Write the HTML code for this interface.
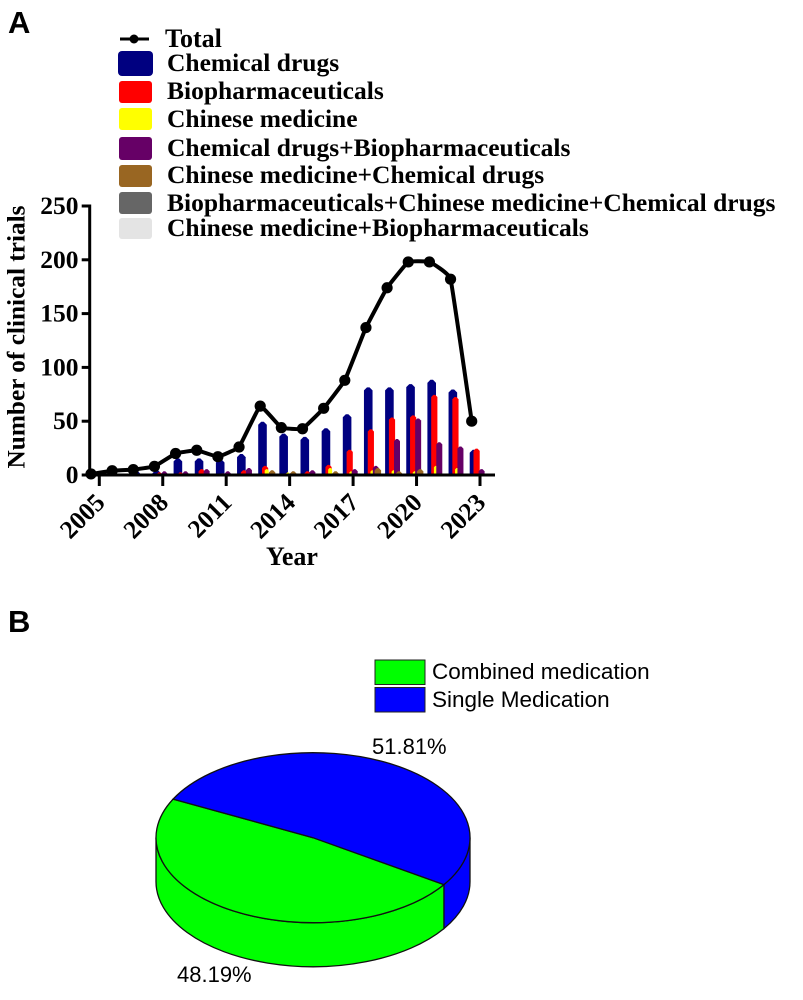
<!DOCTYPE html>
<html lang="en">
<head>
<meta charset="utf-8">
<title>Clinical trials chart</title>
<style>
html,body{margin:0;padding:0;background:#fff;}
#stage{display:block;width:803px;height:1000px;}
.serif{font-family:"Liberation Serif",serif;font-weight:bold;fill:#000;}
.sans{font-family:"Liberation Sans",sans-serif;fill:#000;}
</style>
</head>
<body>
<svg id="stage" xmlns="http://www.w3.org/2000/svg" width="803" height="1000" viewBox="0 0 803 1000">
  <text class="sans" x="8" y="33" font-size="31" font-weight="bold">A</text>
  <text class="sans" x="8" y="632" font-size="31" font-weight="bold">B</text>

  <g id="bars"></g>
  <g id="axes"></g>
  <g id="total"></g>

  <text class="serif" x="0" y="0" font-size="25.300" text-anchor="middle" transform="translate(24.500 337) rotate(-90)">Number of clinical trials</text>
  <text class="serif" x="292" y="565" font-size="26" text-anchor="middle">Year</text>

  <g>
    <g>
      <line x1="120" y1="39" x2="149" y2="39" stroke="#000" stroke-width="3"/>
      <circle cx="134" cy="39" r="4.500" fill="#000"/>
      <text class="serif" x="165" y="47" font-size="26">Total</text>
    </g>
    <g>
      <rect x="118" y="51" width="35" height="25" rx="4" fill="#000080"/>
      <text class="serif" x="167" y="71" font-size="25.500">Chemical drugs</text>
    </g>
    <g>
      <rect x="119" y="81" width="33" height="22" rx="3" fill="#ff0000"/>
      <text class="serif" x="167" y="99" font-size="25.500">Biopharmaceuticals</text>
    </g>
    <g>
      <rect x="119" y="108" width="33" height="22" rx="3" fill="#ffff00"/>
      <text class="serif" x="167" y="127" font-size="25.500">Chinese medicine</text>
    </g>
    <g>
      <rect x="119" y="137" width="33" height="23" rx="3" fill="#660066"/>
      <text class="serif" x="167" y="156" font-size="25.500">Chemical drugs+Biopharmaceuticals</text>
    </g>
    <g>
      <rect x="119" y="165" width="33" height="22" rx="3" fill="#996622"/>
      <text class="serif" x="167" y="183" font-size="25.500">Chinese medicine+Chemical drugs</text>
    </g>
    <g>
      <rect x="119" y="192" width="33" height="22" rx="3" fill="#666666"/>
      <text class="serif" x="167" y="211" font-size="25.500">Biopharmaceuticals+Chinese medicine+Chemical drugs</text>
    </g>
    <g>
      <rect x="119" y="218" width="33" height="21" rx="3" fill="#e4e4e4"/>
      <text class="serif" x="167" y="236" font-size="25.500">Chinese medicine+Biopharmaceuticals</text>
    </g>
  </g>

  <g id="pie"></g>

  <g>
    <g>
      <rect x="375" y="660" width="50" height="24.500" fill="#00ff00" stroke="#222" stroke-width="1"/>
      <text class="sans" x="432" y="679" font-size="22.500">Combined medication</text>
    </g>
    <g>
      <rect x="375" y="687.500" width="50" height="24.500" fill="#0000ff" stroke="#222" stroke-width="1"/>
      <text class="sans" x="432" y="707" font-size="22.500">Single Medication</text>
    </g>
  </g>
  <text class="sans" x="372" y="754" font-size="22">51.81%</text>
  <text class="sans" x="177" y="982" font-size="22">48.19%</text>
</svg>

<script>
var years = [2005,2006,2007,2008,2009,2010,2011,2012,2013,2014,2015,2016,2017,2018,2019,2020,2021,2022,2023];
var totalValues = [1,4,5,8,20,23,17,26,64,44,43,62,88,137,174,198,198,182,50];
var chemicalValues = [0,1,4,4,15,15,14,19,49,38,35,43,56,81,81,84,88,79,23];
var bioValues = [0,0,0,2,2,5,1,4,8,1,3,9,23,42,53,55,74,72,24];
var chineseValues = [0,0,0,0,0,0,0,0,5,2,1,6,3,4,4,3,8,6,0];
var chemBioValues = [0,0,0,3,3,5,3,6,1,1,4,1,5,8,33,52,30,26,5];
var chineseChemValues = [0,0,0,0,0,0,0,0,4,3,0,3,0,6,3,5,0,0,0];
var triValues = [0,0,0,0,0,0,0,0,0,0,0,0,0,0,0,0,0,0,0];
var chineseBioValues = [0,0,0,0,0,0,0,0,0,0,0,0,0,0,0,0,0,0,0];
var yTicks = [0,50,100,150,200,250];
var xTickYears = [2005,2008,2011,2014,2017,2020,2023];
var pieValues = [48.19,51.81];

var NS = 'http://www.w3.org/2000/svg';
function make(tag, attrs, parent) {
  var el = document.createElementNS(NS, tag);
  for (var k in attrs) { el.setAttribute(k, attrs[k]); }
  parent.appendChild(el);
  return el;
}
function xScale(year) { return 99.3 + (year - 2005) * 21.15; }
function yScale(v) { return 475 - v * 1.076; }

/* bars */
var barsG = document.getElementById('bars');
function drawBars(values, offset, width, color, name) {
  values.forEach(function (v, i) {
    if (v <= 0) { return; }
    var cx = xScale(years[i]) + offset;
    var top = yScale(v) - 0.5;
    var base = yScale(0);
    var hw = width / 2;
    var r = Math.min(hw * 0.7, base - top);
    var d = 'M' + (cx - hw) + ' ' + base + 'L' + (cx - hw) + ' ' + (top + r) +
      'L' + (cx - hw * 0.3) + ' ' + top + 'L' + (cx + hw * 0.3) + ' ' + top +
      'L' + (cx + hw) + ' ' + (top + r) +
      'L' + (cx + hw) + ' ' + base + 'Z';
    var p = make('path', { d: d, fill: color }, barsG);
    
    
  });
}
drawBars(chemicalValues, -6, 8.6, '#000080', 'chemical');
drawBars(bioValues, -3.4, 6.2, '#ff0000', 'biopharma');
drawBars(chineseValues, -1.8, 4, '#ffff00', 'chinese');
drawBars(chemBioValues, 1.6, 6, '#660066', 'chemical-biopharma');
drawBars(chineseChemValues, 3.6, 6.5, '#996622', 'chinese-chemical');
drawBars(triValues, 5, 4, '#666666', 'bio-chinese-chemical');
drawBars(chineseBioValues, 6, 4, '#e4e4e4', 'chinese-bio');

/* axes */
var axesG = document.getElementById('axes');
var yAxisLine = make('line', { x1: 89.7, y1: yScale(250) - 1.5, x2: 89.7, y2: yScale(0) + 1.5, stroke: '#000', 'stroke-width': 3 }, axesG);


var xAxisLine = make('line', { x1: 88, y1: yScale(0), x2: 495, y2: yScale(0), stroke: '#000', 'stroke-width': 3 }, axesG);



yTicks.forEach(function (t) {
  var y = yScale(t);
  var tick = make('line', { x1: 81.7, y1: y, x2: 90, y2: y, stroke: '#000', 'stroke-width': 3 }, axesG);
  
  
  var label = make('text', { x: 78.5, y: y + 8, 'text-anchor': 'end', 'font-size': 25.5, 'class': 'serif' }, axesG);
  label.textContent = t;
  
  
});
xTickYears.forEach(function (yr) {
  var x = xScale(yr);
  var tick = make('line', { x1: x, y1: yScale(0), x2: x, y2: 486, stroke: '#000', 'stroke-width': 3 }, axesG);
  
  
  var label = make('text', { x: 0, y: 0, 'text-anchor': 'end', 'font-size': 25.5, 'class': 'serif', transform: 'translate(' + (x + 7) + ' 504) rotate(-45)' }, axesG);
  label.textContent = yr;
  
  
});

/* total line */
var totalG = document.getElementById('total');
var pts = totalValues.map(function (v, i) { return [xScale(years[i]) - 8.3, yScale(v)]; });
var lineD = 'M' + pts[0][0] + ' ' + pts[0][1];
for (var i = 0; i < pts.length - 1; i++) {
  var p0 = pts[Math.max(i - 1, 0)], p1 = pts[i], p2 = pts[i + 1], p3 = pts[Math.min(i + 2, pts.length - 1)];
  var s = 0.04;
  lineD += 'C' + (p1[0] + (p2[0] - p0[0]) * s) + ' ' + (p1[1] + (p2[1] - p0[1]) * s) + ' ' +
    (p2[0] - (p3[0] - p1[0]) * s) + ' ' + (p2[1] - (p3[1] - p1[1]) * s) + ' ' + p2[0] + ' ' + p2[1];
}
var totalLine = make('path', { d: lineD, fill: 'none', stroke: '#000', 'stroke-width': 4, 'stroke-linejoin': 'round' }, totalG);


pts.forEach(function (pt, i) {
  var c = make('circle', { cx: pt[0], cy: pt[1], r: 5.6, fill: '#000' }, totalG);
  
  
});

/* 3D pie */
var pieG = document.getElementById('pie');
var cx = 313, cy = 837.7, rx = 157, ry = 85, depth = 44;
var startDeg = 33.5;
var sum = pieValues[0] + pieValues[1];
var greenEnd = startDeg + pieValues[0] / sum * 360;
function pointAt(deg, dy) {
  var a = deg * Math.PI / 180;
  return [cx + rx * Math.cos(a), cy + (dy || 0) + ry * Math.sin(a)];
}
function fmt(p) { return p[0].toFixed(2) + ' ' + p[1].toFixed(2); }

var a1 = pointAt(0), a2 = pointAt(startDeg), a3 = pointAt(180);
var sideBlue = make('path', { d: 'M' + fmt(a1) + 'A' + rx + ' ' + ry + ' 0 0 1 ' + fmt(a2) + 'L' + fmt(pointAt(startDeg, depth)) + 'A' + rx + ' ' + ry + ' 0 0 0 ' + fmt(pointAt(0, depth)) + 'Z', fill: '#0000ff', stroke: '#111', 'stroke-width': 1.3 }, pieG);


var sideGreen = make('path', { d: 'M' + fmt(a2) + 'A' + rx + ' ' + ry + ' 0 0 1 ' + fmt(a3) + 'L' + fmt(pointAt(180, depth)) + 'A' + rx + ' ' + ry + ' 0 0 0 ' + fmt(pointAt(startDeg, depth)) + 'Z', fill: '#00ff00', stroke: '#111', 'stroke-width': 1.3 }, pieG);



var center = [cx, cy];
var pA = pointAt(startDeg), pB = pointAt(greenEnd);
var topGreen = make('path', { d: 'M' + fmt(center) + 'L' + fmt(pA) + 'A' + rx + ' ' + ry + ' 0 ' + (greenEnd - startDeg > 180 ? 1 : 0) + ' 1 ' + fmt(pB) + 'Z', fill: '#00ff00', stroke: '#111', 'stroke-width': 1.3 }, pieG);


var topBlue = make('path', { d: 'M' + fmt(center) + 'L' + fmt(pB) + 'A' + rx + ' ' + ry + ' 0 ' + (greenEnd - startDeg > 180 ? 0 : 1) + ' 1 ' + fmt(pA) + 'Z', fill: '#0000ff', stroke: '#111', 'stroke-width': 1.3 }, pieG);


</script>
</body>
</html>
